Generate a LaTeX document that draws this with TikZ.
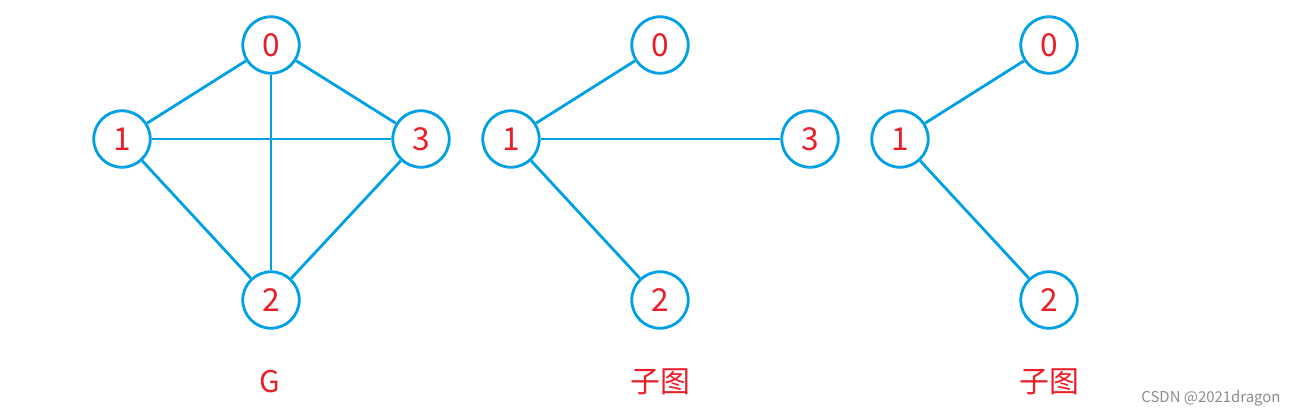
\documentclass[tikz,border=0pt]{standalone}
\usepackage{fontspec}
\setmainfont{Noto Sans CJK SC}
\usepackage{xcolor}
\usepackage{tikz}
\usetikzlibrary{positioning}
\definecolor{edgeblue}{RGB}{0,160,230}
\definecolor{labelred}{RGB}{235,30,40}
\tikzstyle{vertex} = [circle, draw=edgeblue, line width=1.6pt, fill=white, minimum size=1.13cm, inner sep=0pt, text=labelred, font=\fontsize{18}{21}\selectfont]
\tikzstyle{edge} = [draw=edgeblue, line width=1.6pt]
\tikzstyle{caption} = [text=labelred, font=\fontsize{17}{20}\selectfont]

\begin{document}
\begin{tikzpicture}[x=0.02cm, y=-0.02cm]
    \useasboundingbox (0,0) rectangle (1300,416);
    % graph G
    \node (g0) [vertex] at (271,45) {0};
    \node (g1) [vertex] at (122,139) {1};
    \node (g3) [vertex] at (421,139) {3};
    \node (g2) [vertex] at (271,300) {2};
    % first subgraph
    \node (a0) [vertex] at (660,45) {0};
    \node (a1) [vertex] at (511,139) {1};
    \node (a3) [vertex] at (810,139) {3};
    \node (a2) [vertex] at (660,300) {2};
    % second subgraph
    \node (b0) [vertex] at (1049,45) {0};
    \node (b1) [vertex] at (900,139) {1};
    \node (b2) [vertex] at (1049,300) {2};

    \draw [edge] (g0) -- (g1);
    \draw [edge] (g0) -- (g3);
    \draw [edge] (g0) -- (g2);
    \draw [edge] (g1) -- (g3);
    \draw [edge] (g1) -- (g2);
    \draw [edge] (g3) -- (g2);
    \draw [edge] (a1) -- (a0);
    \draw [edge] (a1) -- (a3);
    \draw [edge] (a1) -- (a2);
    \draw [edge] (b1) -- (b0);
    \draw [edge] (b1) -- (b2);

    \node (capG) [caption] at (270,382) {G};
    \node (capA) [caption] at (660,382) {子图};
    \node (capB) [caption] at (1049,382) {子图};
    \node (mark) [text=black!45, font=\fontsize{8.5}{10}\selectfont] at (1211,398) {CSDN @2021dragon};
  \end{tikzpicture}
\end{document}
